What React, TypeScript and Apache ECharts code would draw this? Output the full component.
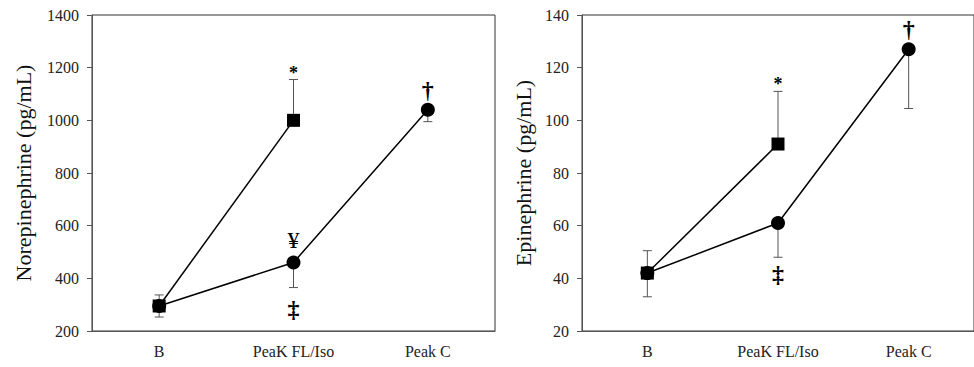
import React, { useEffect, useRef } from "react";
import * as echarts from "echarts";

const categories = ["B", "PeaK FL/Iso", "Peak C"];

// Norepinephrine (pg/mL)
const neFLIso = [295, 1000];
const neFLIsoSD = [42, 155];
const neC = [295, 460, 1040];
const neCSD = [42, 95, 45];

// Epinephrine (pg/mL)
const epiFLIso = [42, 91];
const epiFLIsoSD = [8.5, 20];
const epiC = [42, 61, 127];
const epiCSD = [9, 13, 22.5];

// significance symbols: category index, series, where
const neMarks = [
  { cat: 1, text: "*", series: "sq", where: "errTop" },
  { cat: 1, text: "¥", series: "ci", where: "markTop" },
  { cat: 1, text: "‡", series: "ci", where: "errBottom" },
  { cat: 2, text: "†", series: "ci", where: "markTop" },
];
const epiMarks = [
  { cat: 1, text: "*", series: "sq", where: "errTop" },
  { cat: 1, text: "‡", series: "ci", where: "errBottom" },
  { cat: 2, text: "†", series: "ci", where: "markTop" },
];

const FONT = "Liberation Serif";

function buildPanel(
  idx: number,
  sq: number[],
  sqSD: number[],
  ci: number[],
  ciSD: number[],
  marks: { cat: number; text: string; series: string; where: string }[]
) {
  const errData: number[][] = [];
  sq.forEach((v, i) => errData.push([i, v, v + sqSD[i]]));
  ci.forEach((v, i) => errData.push([i, v, v - ciSD[i]]));

  const markData = marks.map((m) => {
    const arr = m.series === "sq" ? sq : ci;
    const sd = m.series === "sq" ? sqSD : ciSD;
    const v = arr[m.cat];
    let anchor = v;
    if (m.where === "errTop") anchor = v + sd[m.cat];
    if (m.where === "errBottom") anchor = v - sd[m.cat];
    return [m.cat, anchor];
  });

  return [
    {
      type: "custom",
      xAxisIndex: idx,
      yAxisIndex: idx,
      z: 1,
      silent: true,
      data: errData,
      renderItem: (params: any, api: any) => {
        const x = api.value(0);
        const p0 = api.coord([x, api.value(1)]);
        const p1 = api.coord([x, api.value(2)]);
        const style = { stroke: "#555", lineWidth: 1 };
        return {
          type: "group",
          children: [
            { type: "line", shape: { x1: p0[0], y1: p0[1], x2: p1[0], y2: p1[1] }, style },
            { type: "line", shape: { x1: p1[0] - 4.5, y1: p1[1], x2: p1[0] + 4.5, y2: p1[1] }, style },
          ],
        };
      },
    },
    {
      type: "line",
      xAxisIndex: idx,
      yAxisIndex: idx,
      z: 3,
      data: ci,
      symbol: "circle",
      symbolSize: 14,
      lineStyle: { color: "#000", width: 1.5 },
      itemStyle: { color: "#000" },
    },
    {
      type: "line",
      xAxisIndex: idx,
      yAxisIndex: idx,
      z: 4,
      data: sq,
      symbol: "rect",
      symbolSize: 13,
      lineStyle: { color: "#000", width: 1.5 },
      itemStyle: { color: "#000" },
    },
    {
      type: "custom",
      xAxisIndex: idx,
      yAxisIndex: idx,
      z: 5,
      silent: true,
      data: markData,
      renderItem: (params: any, api: any) => {
        const m = marks[params.dataIndex];
        const p = api.coord([api.value(0), api.value(1)]);
        let dy = -3;
        let va = "bottom";
        let fs = 24;
        let fw = "bold";
        if (m.text === "*") {
          dy = 2;
          fs = 18;
        }
        if (m.text === "†") dy = -8;
        if (m.text === "¥") {
          dy = -11;
          fs = 24;
          fw = "normal";
        }
        if (m.where === "errBottom") {
          dy = idx === 0 ? 9 : 5;
          va = "top";
        }
        return {
          type: "text",
          x: p[0],
          y: p[1] + dy,
          style: {
            text: m.text,
            align: "center",
            verticalAlign: va,
            fontSize: fs,
            fontFamily: FONT,
            fontWeight: fw,
            fill: "#000",
          },
        };
      },
    },
  ];
}

export default function App() {
  const ref = useRef<HTMLDivElement>(null);
  useEffect(() => {
    if (!ref.current) return;
    const chart = echarts.init(ref.current, undefined, { renderer: "svg" });
    const axisLabel = { fontFamily: FONT, fontSize: 16, color: "#222" };
    const mkX = (gi: number) => ({
      type: "category",
      gridIndex: gi,
      data: categories,
      boundaryGap: true,
      axisLine: { lineStyle: { color: "#555", width: 1 } },
      axisTick: { alignWithLabel: true, length: 4, lineStyle: { color: "#555" } },
      axisLabel: { ...axisLabel, margin: 12 },
    });
    const mkY = (gi: number, min: number, max: number, interval: number, name: string, gap: number) => ({
      type: "value",
      gridIndex: gi,
      min,
      max,
      interval,
      name,
      nameLocation: "middle",
      nameGap: gap,
      nameTextStyle: { fontFamily: FONT, fontSize: 22, color: "#111" },
      axisLine: { show: true, lineStyle: { color: "#555", width: 1 } },
      axisTick: { show: true, length: 5, lineStyle: { color: "#555" } },
      axisLabel: { ...axisLabel, margin: 13, formatter: (v: number) => String(v) },
      splitLine: { show: false },
    });
    chart.setOption({
      animation: false,
      backgroundColor: "#fff",
      textStyle: { fontFamily: FONT },
      grid: [
        { left: 92, top: 15, width: 403, height: 316, show: true, borderColor: "#333", borderWidth: 1, containLabel: false },
        { left: 582, top: 15, width: 403, height: 316, show: true, borderColor: "#333", borderWidth: 1, containLabel: false },
      ],
      xAxis: [mkX(0), mkX(1)],
      yAxis: [
        mkY(0, 200, 1400, 200, "Norepinephrine (pg/mL)", 58),
        mkY(1, 20, 140, 20, "Epinephrine (pg/mL)", 48),
      ],
      series: [
        ...buildPanel(0, neFLIso, neFLIsoSD, neC, neCSD, neMarks),
        ...buildPanel(1, epiFLIso, epiFLIsoSD, epiC, epiCSD, epiMarks),
      ],
    });
    return () => chart.dispose();
  }, []);
  return (
    <div
      ref={ref}
      style={{ position: "absolute", left: 0, top: 0, width: 974, height: 367, background: "#fff" }}
    />
  );
}
